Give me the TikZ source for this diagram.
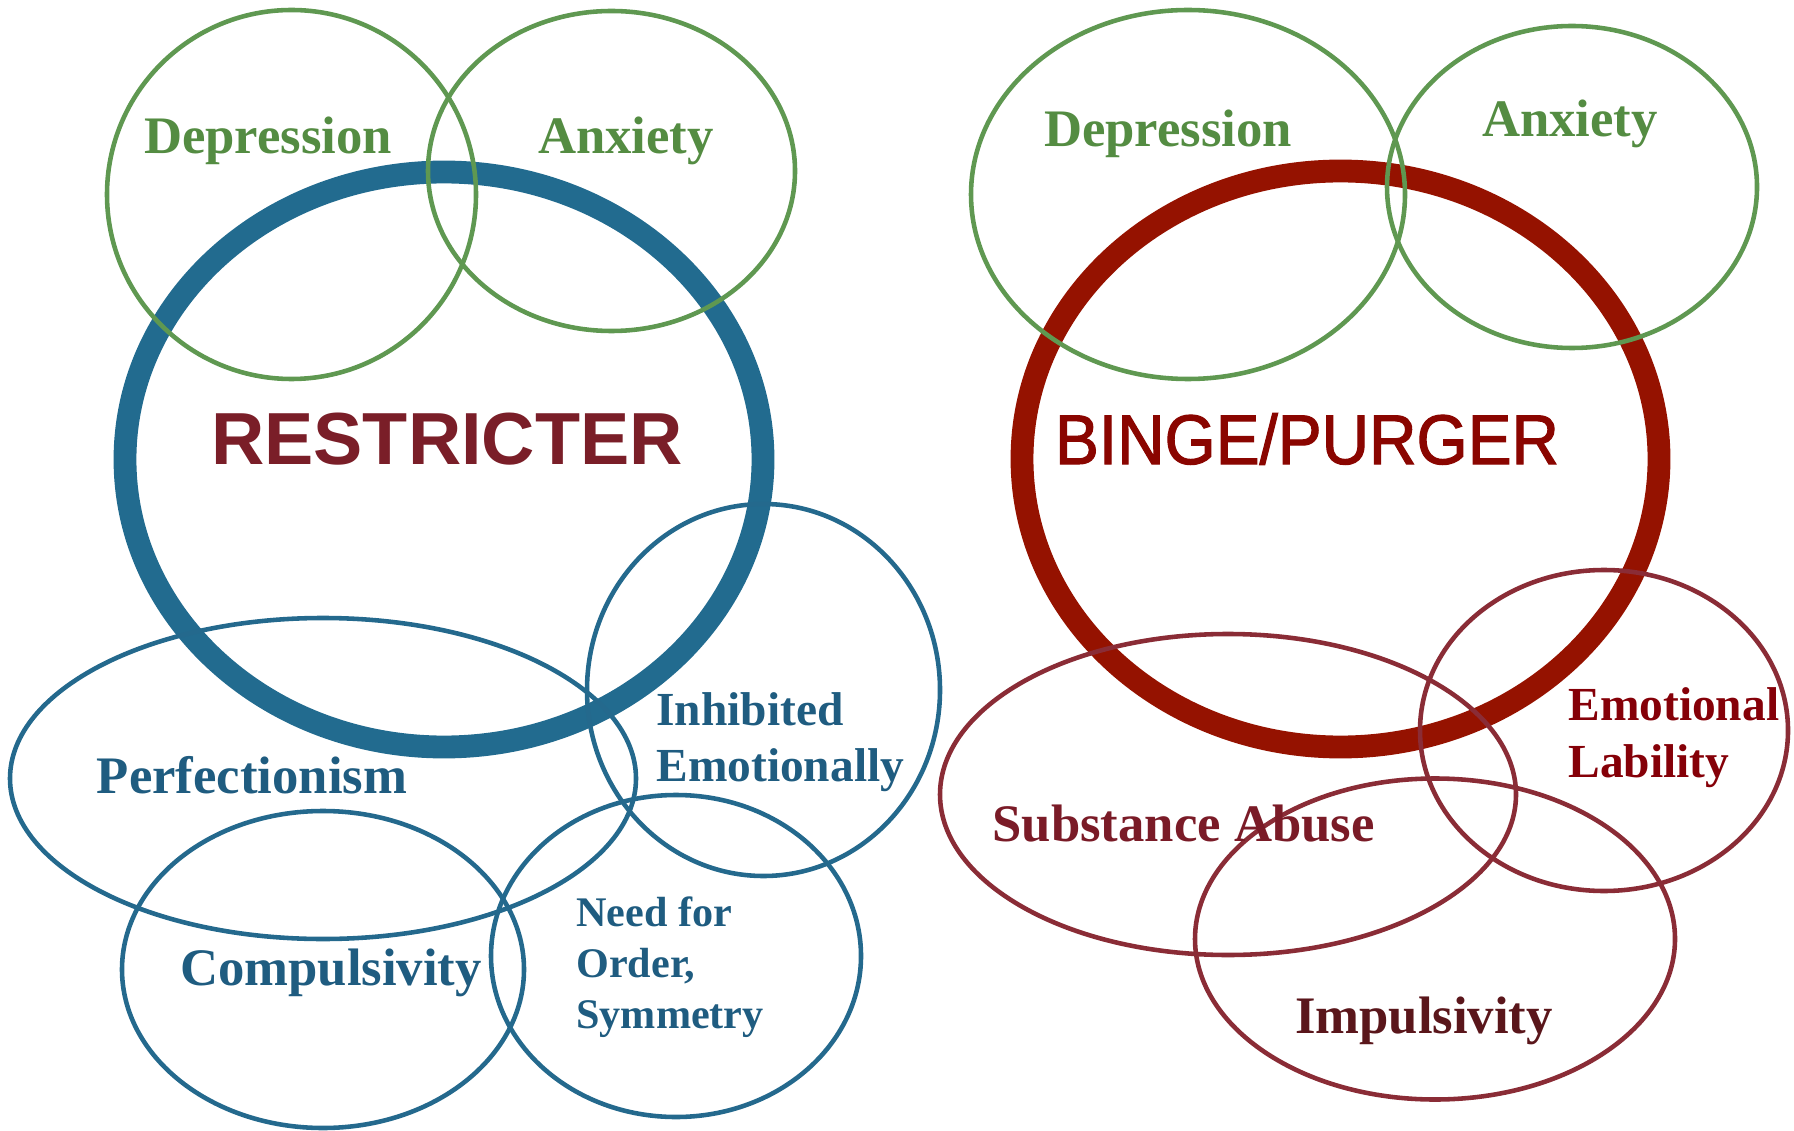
\documentclass[tikz,border=0pt]{standalone}
\usepackage{fontspec}
\setmainfont{Liberation Serif}
\newfontfamily\headsans{Liberation Sans}
\newfontfamily\headnarrow[FakeStretch=0.935,FakeBold=1.6]{Liberation Sans}
\usepackage{xcolor}
\definecolor{clBlueRing}{HTML}{226B8F}
\definecolor{clBlueThin}{HTML}{24698D}
\definecolor{clBlueText}{HTML}{1F5C80}
\definecolor{clGreen}{HTML}{5F9851}
\definecolor{clGreenText}{HTML}{548C42}
\definecolor{clRedRing}{HTML}{951200}
\definecolor{clRedThin}{HTML}{8A2C36}
\definecolor{clRestrictText}{HTML}{7A1E28}
\definecolor{clBingeText}{HTML}{8A0500}
\definecolor{clAbuseText}{HTML}{7A1B27}
\definecolor{clLabilText}{HTML}{850008}
\definecolor{clImpulsText}{HTML}{5A161B}
\usetikzlibrary{calc}
\tikzset{
  ring/.style={line width=13pt},
  bubble/.style={line width=2.6pt},
  restrictring/.style={ring, draw=clBlueRing},
  bingering/.style={ring, draw=clRedRing},
  mood/.style={bubble, draw=clGreen},
  trait/.style={bubble, draw=clBlueThin},
  risk/.style={bubble, draw=clRedThin},
  lbl/.style={inner sep=0pt, anchor=base, font=\bfseries\fontsize{30}{34}\selectfont},
  lblleft/.style={inner sep=0pt, anchor=base west, align=left},
  moodlbl/.style={lbl, text=clGreenText},
  traitlbl/.style={lbl, text=clBlueText},
}

\begin{document}
\begin{tikzpicture}[x=0.02cm, y=-0.02cm]
  \useasboundingbox (0,0) rectangle (1794,1131);

  % restricter side
  \draw[restrictring] (444,459.5) ellipse [x radius=319, y radius=287.5];
  \draw[trait] (323,778.5) ellipse [x radius=313, y radius=160.5];
  \draw[trait] (323,969.5) ellipse [x radius=201, y radius=158.5];
  \draw[trait] (676,956) ellipse [x radius=185, y radius=161];
  \draw[trait] (763.5,690) ellipse [x radius=176.5, y radius=186];
  \draw[mood] (291.5,194.5) ellipse [x radius=184.5, y radius=184.5];
  \draw[mood] (611.5,171) ellipse [x radius=183.5, y radius=160];

  % binge/purger side
  \draw[bingering] (1340.5,459) ellipse [x radius=318.5, y radius=288];
  \draw[risk] (1228,794.5) ellipse [x radius=288, y radius=160.5];
  \draw[risk] (1604,730.5) ellipse [x radius=184, y radius=160.5];
  \draw[risk] (1435,939) ellipse [x radius=240, y radius=160.5];
  \draw[mood] (1188,194.5) ellipse [x radius=217, y radius=184.5];
  \draw[mood] (1572,187) ellipse [x radius=185, y radius=161];

  % labels (multi-line ones sit on their last baseline)
  \node[moodlbl] (depL) at (268,154) {Depression};
  \node[moodlbl] (anxL) at (626,154) {Anxiety};
  \node[moodlbl] (depR) at (1168,147) {Depression};
  \node[moodlbl] (anxR) at (1570,137) {Anxiety};
  \node[inner sep=0pt, anchor=base, text=clRestrictText,
        font=\headsans\bfseries\fontsize{42}{46}\selectfont] (restrict) at (447,464) {RESTRICTER};
  \node[inner sep=0pt, anchor=base, text=clBingeText,
        font=\headnarrow\fontsize{40}{44}\selectfont] (binge) at (1307,464) {BINGE/PURGER};
  \node[traitlbl] (perfect) at (252,793) {Perfectionism};
  \node[traitlbl] (compuls) at (331,985) {Compulsivity};
  \node[lblleft, text=clBlueText, font=\bfseries\fontsize{27}{31.7}\selectfont] (inhib) at (656,781) {Inhibited\\Emotionally};
  \node[lblleft, text=clBlueText, font=\bfseries\fontsize{24}{28.9}\selectfont] (order) at (576,1028) {Need for\\Order,\\Symmetry};
  \node[lblleft, text=clLabilText, font=\bfseries\fontsize{27}{32}\selectfont] (labil) at (1568,777) {Emotional\\Lability};
  \node[lbl, text=clAbuseText] (abuse) at (1183.5,841) {Substance Abuse};
  \node[lbl, text=clImpulsText] (impuls) at (1424,1033) {Impulsivity};
\end{tikzpicture}
\end{document}
